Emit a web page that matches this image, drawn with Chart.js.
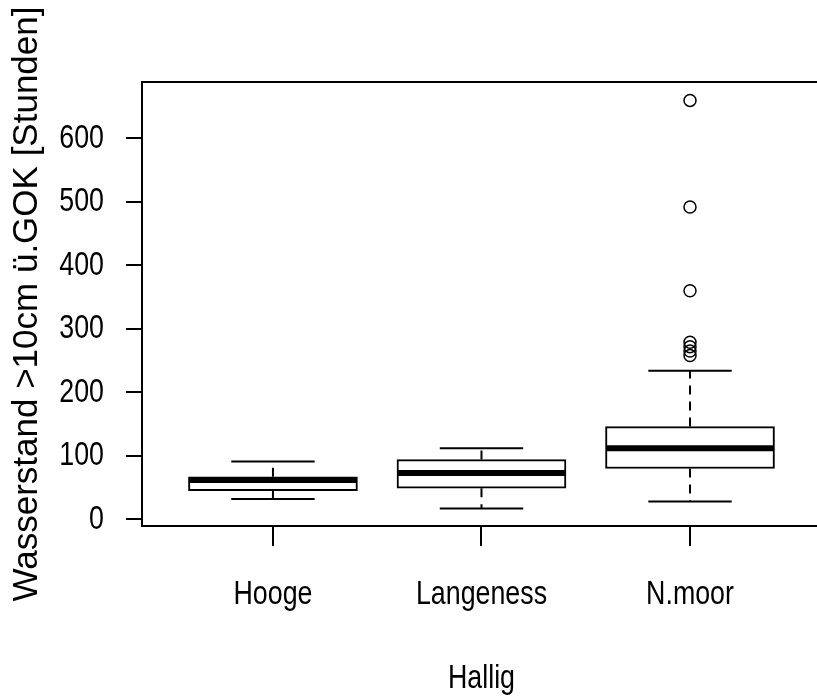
<!DOCTYPE html>
<html>
<head>
<meta charset="utf-8">
<script src="https://cdn.jsdelivr.net/npm/chart.js@4"></script>
<style>
    html, body { margin: 0; padding: 0; background: #fff; overflow: hidden; }
    canvas { display: block; }
</style>
</head>
<body>
<canvas id="boxChart" width="817" height="698"></canvas>
<script>
// ===== DATA =====
const hallig = ["Hooge", "Langeness", "N.moor"];
const whiskerLow = [32, 17, 28];
const q1 = [45, 49, 80];
const median = [62, 73, 112];
const q3 = [67, 94, 146];
const whiskerHigh = [91, 112, 234];
const outlierGroup = [3, 3, 3, 3, 3, 3, 3];
const outlierValue = [660, 492, 360, 279, 272, 265, 258];
const yTicks = [0, 100, 200, 300, 400, 500, 600];

const labelFont = "33.5px 'Liberation Sans', Arial, sans-serif";
const squeeze = 0.8;   // the reference text is horizontally narrowed

// write text narrowed in x, anchored at (x, y)
function narrowText(ctx, text, x, y, align, baseline) {
    ctx.save();
    ctx.font = labelFont;
    ctx.fillStyle = "#000";
    ctx.textAlign = align;
    ctx.textBaseline = baseline;
    ctx.translate(x, y);
    ctx.scale(squeeze, 1);
    ctx.fillText(text, 0, 0);
    ctx.restore();
}

// whiskers, caps, medians, frame top and the narrowed labels
const boxParts = {
    id: "boxParts",
    beforeDatasetsDraw(chart) {
        const x = chart.scales.x;
        const y = chart.scales.y;
        const ctx = chart.ctx;
        ctx.save();
        ctx.strokeStyle = "#000";
        ctx.lineWidth = 2;
        hallig.forEach((h, i) => {
            const px = x.getPixelForValue(i + 1);
            const capL = x.getPixelForValue(i + 1 - 0.2);
            const capR = x.getPixelForValue(i + 1 + 0.2);
            // dashed whiskers
            ctx.setLineDash([9, 7]);
            ctx.beginPath();
            ctx.moveTo(px, y.getPixelForValue(q3[i]));
            ctx.lineTo(px, y.getPixelForValue(whiskerHigh[i]));
            ctx.moveTo(px, y.getPixelForValue(q1[i]));
            ctx.lineTo(px, y.getPixelForValue(whiskerLow[i]));
            ctx.stroke();
            // caps
            ctx.setLineDash([]);
            ctx.beginPath();
            ctx.moveTo(capL, y.getPixelForValue(whiskerHigh[i]));
            ctx.lineTo(capR, y.getPixelForValue(whiskerHigh[i]));
            ctx.moveTo(capL, y.getPixelForValue(whiskerLow[i]));
            ctx.lineTo(capR, y.getPixelForValue(whiskerLow[i]));
            ctx.stroke();
        });
        ctx.restore();
    },
    afterDatasetsDraw(chart) {
        const x = chart.scales.x;
        const y = chart.scales.y;
        const ctx = chart.ctx;
        ctx.save();
        ctx.strokeStyle = "#000";
        ctx.lineWidth = 6;
        hallig.forEach((h, i) => {
            ctx.beginPath();
            ctx.moveTo(x.getPixelForValue(i + 1 - 0.4), y.getPixelForValue(median[i]));
            ctx.lineTo(x.getPixelForValue(i + 1 + 0.4), y.getPixelForValue(median[i]));
            ctx.stroke();
        });
        // top of the plot frame
        const a = chart.chartArea;
        ctx.lineWidth = 2;
        ctx.beginPath();
        ctx.moveTo(a.left, a.top);
        ctx.lineTo(a.right, a.top);
        ctx.stroke();
        ctx.restore();
    },
    afterDraw(chart) {
        const x = chart.scales.x;
        const y = chart.scales.y;
        const ctx = chart.ctx;
        // ===== Y TICK LABELS =====
        yTicks.forEach(v => {
            narrowText(ctx, String(v), y.right - 38, y.getPixelForValue(v), "right", "middle");
        });
        // ===== X TICK LABELS =====
        hallig.forEach((h, i) => {
            narrowText(ctx, h, x.getPixelForValue(i + 1), x.top + 78, "center", "alphabetic");
        });
        // ===== X TITLE =====
        narrowText(ctx, "Hallig", x.getPixelForValue(2), x.top + 162, "center", "alphabetic");
    }
};

new Chart(document.getElementById("boxChart"), {
    type: "bar",
    data: {
        datasets: [
            {
                label: "Box",
                data: hallig.map((h, i) => ({ x: i + 1, y: [q1[i], q3[i]] })),
                backgroundColor: "#fff",
                borderColor: "#000",
                borderWidth: 2,
                borderSkipped: false,
                barThickness: 169
            },
            {
                type: "scatter",
                label: "Ausreißer",
                data: outlierValue.map((v, i) => ({ x: outlierGroup[i], y: v })),
                pointStyle: "circle",
                pointRadius: 6,
                borderColor: "#000",
                borderWidth: 1.5,
                backgroundColor: "rgba(0,0,0,0)"
            }
        ]
    },
    options: {
        responsive: false,
        animation: false,
        layout: { autoPadding: false, padding: { top: 82, right: 0, left: 0, bottom: 0 } },
        plugins: {
            legend: { display: false },
            tooltip: { enabled: false }
        },
        scales: {
            x: {
                type: "linear",
                offset: false,
                min: 0.372,
                max: 3.609,
                afterBuildTicks: s => { s.ticks = hallig.map((h, i) => ({ value: i + 1 })); },
                afterFit: s => { s.height = 172; },
                grid: {
                    offset: false,
                    drawOnChartArea: false,
                    tickLength: 20,
                    color: "#000",
                    lineWidth: 2
                },
                border: { display: true, color: "#000", width: 2 },
                ticks: { display: false }
            },
            y: {
                min: -10.6,
                max: 689,
                afterBuildTicks: s => { s.ticks = yTicks.map(v => ({ value: v })); },
                afterFit: s => { s.width = 142; },
                grid: {
                    drawOnChartArea: false,
                    tickLength: 16,
                    color: "#000",
                    lineWidth: 2
                },
                border: { display: true, color: "#000", width: 2 },
                ticks: { display: false },
                title: {
                    display: true,
                    text: "Wasserstand >10cm ü.GOK [Stunden]",
                    color: "#000",
                    font: { family: "'Liberation Sans', Arial, sans-serif", size: 35 },
                    padding: { top: 6, bottom: 0 }
                }
            }
        }
    },
    plugins: [boxParts]
});
</script>
</body>
</html>
